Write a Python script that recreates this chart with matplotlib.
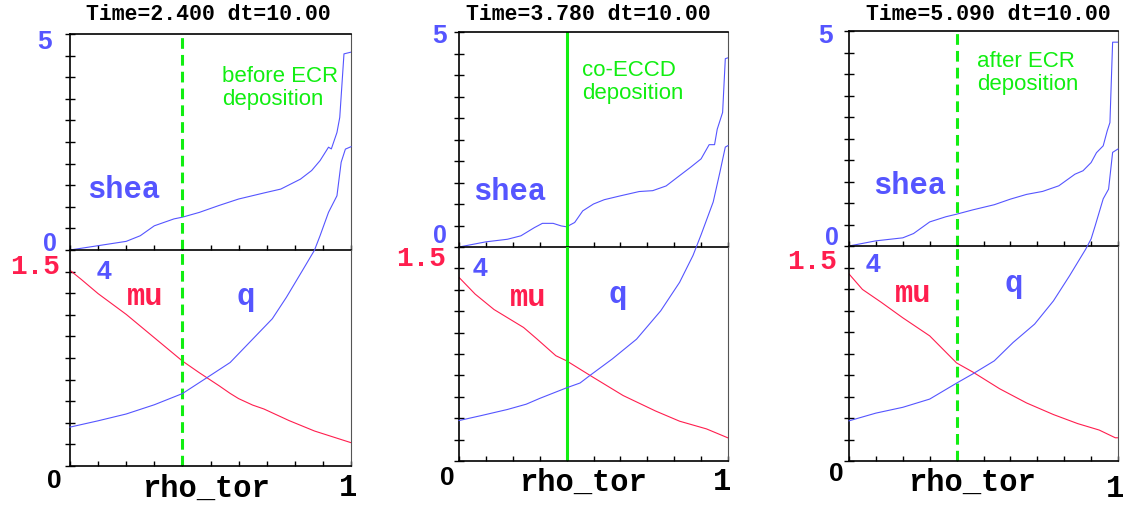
import matplotlib
matplotlib.use("Agg")
import matplotlib.pyplot as plt

W, H = 1123, 506

# ---- data ----
titles = ["Time=2.400 dt=10.00", "Time=3.780 dt=10.00", "Time=5.090 dt=10.00"]
notes = ["before ECR\ndeposition", "co-ECCD\ndeposition", "after ECR\ndeposition"]
ecr_rho = [0.4, 0.4, 0.4]

shea_rho_1 = [0, 0.1, 0.2, 0.25, 0.3, 0.37, 0.4, 0.46, 0.53, 0.6, 0.69, 0.75, 0.82, 0.86, 0.89, 0.92, 0.93, 0.95, 0.96, 0.975, 1.0]
shea_1 = [0, 0.10, 0.20, 0.33, 0.56, 0.72, 0.76, 0.87, 1.03, 1.18, 1.32, 1.41, 1.64, 1.84, 2.07, 2.38, 2.34, 2.72, 3.07, 4.54, 4.58]
q_rho_1 = [0, 0.1, 0.2, 0.3, 0.4, 0.48, 0.57, 0.65, 0.72, 0.77, 0.83, 0.87, 0.89, 0.92, 0.95, 0.965, 0.98, 1.0]
q_1 = [0.80, 0.93, 1.07, 1.26, 1.49, 1.79, 2.13, 2.61, 3.03, 3.47, 4.05, 4.44, 4.74, 5.22, 5.56, 6.25, 6.52, 6.57]
mu_rho_1 = [0, 0.04, 0.1, 0.2, 0.3, 0.4, 0.46, 0.53, 0.57, 0.6, 0.65, 0.69, 0.78, 0.87, 1.0]
mu_1 = [1.51, 1.44, 1.33, 1.17, 0.99, 0.81, 0.72, 0.62, 0.56, 0.52, 0.47, 0.44, 0.35, 0.27, 0.18]

shea_rho_2 = [0, 0.1, 0.18, 0.23, 0.28, 0.31, 0.35, 0.38, 0.4, 0.43, 0.46, 0.5, 0.54, 0.6, 0.67, 0.72, 0.77, 0.82, 0.86, 0.9, 0.93, 0.95, 0.96, 0.98, 0.99, 1.0]
shea_2 = [0, 0.12, 0.18, 0.26, 0.45, 0.55, 0.55, 0.49, 0.47, 0.57, 0.84, 1.00, 1.10, 1.19, 1.29, 1.31, 1.42, 1.66, 1.85, 2.05, 2.38, 2.38, 2.74, 3.13, 4.38, 4.40]
q_rho_2 = [0, 0.08, 0.18, 0.25, 0.3, 0.4, 0.45, 0.49, 0.57, 0.66, 0.75, 0.82, 0.87, 0.9, 0.945, 0.97, 0.99, 1.0]
q_2 = [0.84, 0.94, 1.07, 1.18, 1.30, 1.52, 1.62, 1.79, 2.12, 2.53, 3.12, 3.71, 4.27, 4.70, 5.38, 6.00, 6.52, 6.55]
mu_rho_2 = [0, 0.06, 0.13, 0.24, 0.29, 0.36, 0.4, 0.5, 0.61, 0.73, 0.82, 0.92, 1.0]
mu_2 = [1.43, 1.30, 1.18, 1.04, 0.95, 0.82, 0.78, 0.65, 0.51, 0.39, 0.31, 0.25, 0.18]

shea_rho_3 = [0, 0.1, 0.2, 0.24, 0.3, 0.36, 0.4, 0.46, 0.54, 0.6, 0.66, 0.72, 0.78, 0.84, 0.87, 0.9, 0.92, 0.945, 0.96, 0.97, 0.98, 1.0]
shea_3 = [0, 0.12, 0.19, 0.29, 0.56, 0.68, 0.74, 0.84, 0.96, 1.09, 1.20, 1.27, 1.40, 1.67, 1.75, 1.94, 2.17, 2.33, 2.68, 2.87, 4.74, 4.74]
q_rho_3 = [0, 0.1, 0.2, 0.3, 0.4, 0.46, 0.54, 0.61, 0.69, 0.76, 0.82, 0.88, 0.9, 0.915, 0.945, 0.965, 0.98, 1.0]
q_3 = [0.83, 0.99, 1.11, 1.28, 1.61, 1.80, 2.07, 2.45, 2.83, 3.31, 3.83, 4.38, 4.59, 4.86, 5.42, 5.62, 6.38, 6.45]
mu_rho_3 = [0, 0.05, 0.12, 0.2, 0.3, 0.4, 0.46, 0.56, 0.66, 0.76, 0.85, 0.93, 0.99, 1.0]
mu_3 = [1.45, 1.33, 1.23, 1.11, 0.97, 0.76, 0.69, 0.56, 0.45, 0.36, 0.29, 0.24, 0.18, 0.18]

panels = [
    (shea_rho_1, shea_1, q_rho_1, q_1, mu_rho_1, mu_1),
    (shea_rho_2, shea_2, q_rho_2, q_2, mu_rho_2, mu_2),
    (shea_rho_3, shea_3, q_rho_3, q_3, mu_rho_3, mu_3),
]

# ---- layout (pixels) ----
# left, right, top, mid, bottom
boxes = [(70, 351, 35, 251, 467), (459, 728, 33, 248, 462), (849, 1118, 32, 247, 462)]
styles = ["--", "-", "--"]

BLUE = "#5555ff"
RED = "#ff1e4e"
GREEN = "#11ee11"
MONO = "Liberation Mono"
SANS = "Liberation Sans"

fig = plt.figure(figsize=(W / 100, H / 100), dpi=100)


def px(x, y, s, **kw):
    fig.text(x / W, 1 - y / H, s, **kw)


# label positions (pixels) per panel
lab = [
    dict(title=(208, 15), five=(45, 42), zero=(50, 244), one5=(35, 267), four=(104, 272),
         shea=(124, 198), mu=(145, 305), q=(246, 305), rho=(206, 497), z=(54, 481), one=(348, 488), note=(222, 66)),
    dict(title=(588, 15), five=(440, 36), zero=(440, 236), one5=(421, 259), four=(480, 269),
         shea=(510, 200), mu=(528, 306), q=(618, 303), rho=(583, 491), z=(447, 478), one=(722, 482), note=(582, 60)),
    dict(title=(988, 14), five=(826, 36), zero=(832, 238), one5=(812, 262), four=(873, 265),
         shea=(910, 194), mu=(913, 302), q=(1014, 292), rho=(972, 491), z=(836, 474), one=(1115, 489), note=(977, 51)),
]

for i, (sr, sv, qr, qv, mr, mv) in enumerate(panels):
    l, r, t, m, b = boxes[i]
    ax_t = fig.add_axes([l / W, 1 - m / H, (r - l) / W, (m - t) / H])
    ax_b = fig.add_axes([l / W, 1 - b / H, (r - l) / W, (b - m) / H])
    ax_q = ax_b.twinx()

    ax_t.set_xlim(0, 1)
    ax_t.set_ylim(0, 5)
    ax_b.set_xlim(0, 1)
    ax_b.set_ylim(0, 10 / 6)
    ax_q.set_ylim(0, 40 / 9)
    ax_q.set_xlim(0, 1)

    ax_t.plot(sr, sv, color=BLUE, lw=0.8)
    ax_b.plot(mr, mv, color=RED, lw=0.8)
    ax_q.plot(qr, qv, color=BLUE, lw=0.8, clip_on=False)

    for ax in (ax_t, ax_b):
        ax.axvline(ecr_rho[i], color=GREEN, lw=2.2, ls=styles[i],
                   dashes=(3.5, 2) if styles[i] == "--" else (None, None))
        ax.set_xticks([k / 10 for k in range(11)])
        ax.tick_params(axis="x", direction="in", length=3.5, width=1, labelbottom=False, top=False)
        ax.tick_params(axis="y", direction="inout", length=7, width=1, labelleft=False)
        ax.spines["left"].set_linewidth(1.2)
        ax.spines["bottom"].set_linewidth(1.2)
        ax.spines["right"].set_color("#555555")
        ax.patch.set_alpha(0)
    ax_t.set_yticks([k / 2 for k in range(11)])
    ax_b.set_yticks([k / 6 for k in range(10)])
    ax_t.spines["top"].set_linewidth(1.2)
    ax_b.spines["top"].set_visible(False)
    ax_q.axis("off")

    p = lab[i]
    px(*p["title"], titles[i], family=MONO, weight="bold", fontsize=15.5, ha="center", va="center")
    px(*p["five"], "5", family=SANS, weight="bold", color=BLUE, fontsize=19, ha="center", va="center")
    px(*p["zero"], "0", family=SANS, weight="bold", color=BLUE, fontsize=18, ha="center", va="center")
    px(*p["one5"], "1.5", family=MONO, weight="bold", color=RED, fontsize=20, ha="center", va="center")
    px(*p["four"], "4", family=SANS, weight="bold", color=BLUE, fontsize=19, ha="center", va="center")
    px(*p["shea"], "shea", family=MONO, weight="bold", color=BLUE, fontsize=22, ha="center", va="baseline")
    px(*p["mu"], "mu", family=MONO, weight="bold", color=RED, fontsize=22, ha="center", va="baseline")
    px(*p["q"], "q", family=MONO, weight="bold", color=BLUE, fontsize=22, ha="center", va="baseline")
    px(*p["rho"], "rho_tor", family=MONO, weight="bold", fontsize=22, ha="center", va="baseline")
    px(*p["z"], "0", family=SANS, weight="bold", fontsize=19, ha="center", va="center")
    px(*p["one"], "1", family=MONO, weight="bold", fontsize=22, ha="center", va="center")
    px(*p["note"], notes[i], family=SANS, color=GREEN, fontsize=16, ha="left", va="top", linespacing=1.1)

fig.savefig("out.png", dpi=100)
